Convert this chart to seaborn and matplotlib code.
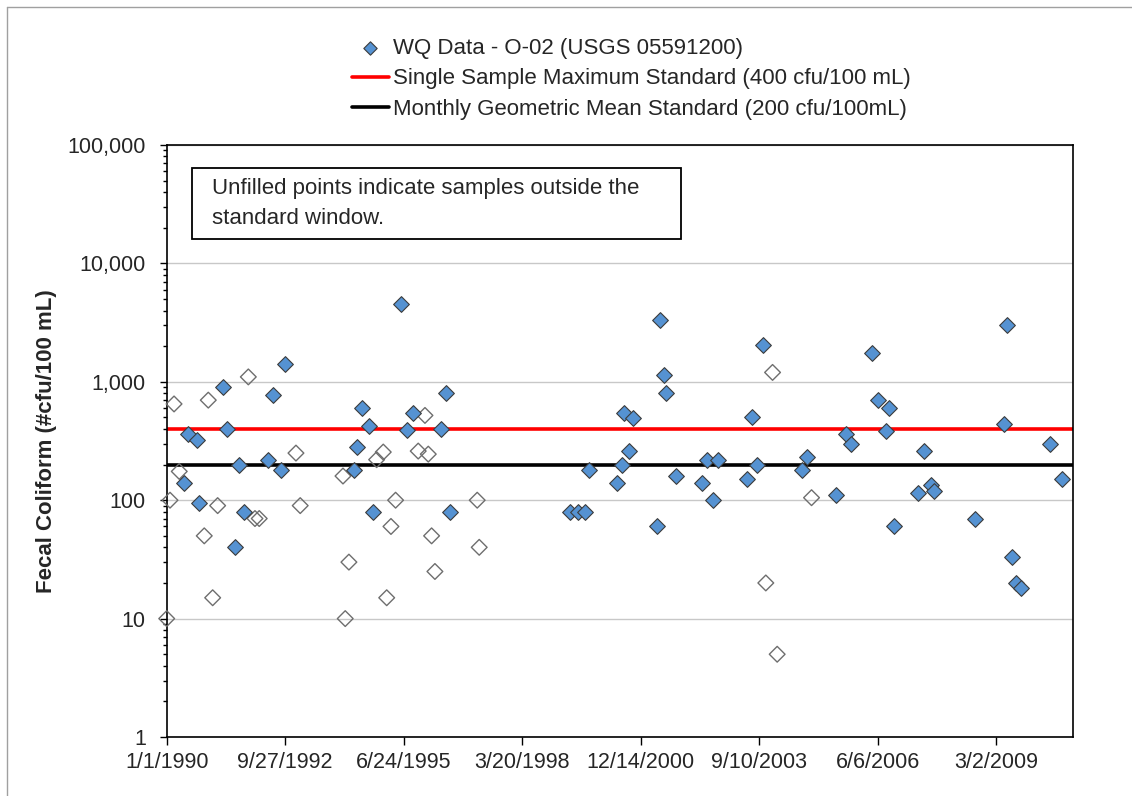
import numpy as np
import pandas as pd
import matplotlib
matplotlib.use("Agg")
import matplotlib.pyplot as plt
import matplotlib.ticker as mticker
import matplotlib.dates as mdates
from matplotlib.lines import Line2D
from matplotlib.patches import Rectangle
import seaborn as sns

# ---------------- data ----------------
start_date = "1990-01-01"
# days since 1/1/1990 and fecal coliform values (#cfu/100 mL)
inside_days = [146, 180, 253, 275, 478, 511, 574, 610, 655, 852,
               895, 967, 998, 1581, 1603, 1648, 1710, 1743, 1975, 2025,
               2081, 2317, 2357, 2391, 3403, 3473, 3530, 3566, 3797, 3840,
               3862, 3904, 3932, 4142, 4163, 4201, 4218, 4295, 4515, 4557,
               4608, 4655, 4895, 4939, 4979, 5030, 5361, 5403, 5646, 5733,
               5775, 5955, 6008, 6070, 6098, 6138, 6338, 6391, 6452, 6475,
               6824, 7066, 7097, 7136, 7167, 7212, 7460, 7553]
inside_vals = [140, 360, 320, 95, 900, 400, 40, 200, 80, 220,
               780, 180, 1400, 180, 280, 600, 420, 80, 4500, 390,
               540, 400, 800, 80, 80, 80, 80, 180, 140, 200,
               550, 260, 490, 60, 3300, 1150, 800, 160, 140, 220,
               100, 220, 150, 500, 200, 2050, 180, 230, 110, 360,
               300, 1750, 700, 385, 600, 61, 115, 260, 135, 120,
               70, 440, 3000, 33, 20, 18, 300, 150]
outside_days = [0, 28, 62, 106, 317, 351, 388, 430, 689, 745,
                781, 1091, 1127, 1488, 1507, 1538, 1772, 1828, 1857, 1893,
                1932, 2123, 2180, 2208, 2236, 2264, 2621, 2638, 5057, 5114,
                5153, 5443]
outside_vals = [10, 100, 650, 175, 50, 700, 15, 90, 1100, 70,
                70, 250, 90, 160, 10, 30, 220, 255, 15, 60,
                100, 260, 520, 245, 50, 25, 100, 40, 20, 1200,
                5, 105]
single_sample_max = 400
geo_mean_std = 200
x_tick_labels = ["1/1/1990", "9/27/1992", "6/24/1995", "3/20/1998",
                 "12/14/2000", "9/10/2003", "6/6/2006", "3/2/2009"]
y_ticks = [1, 10, 100, 1000, 10000, 100000]

series_label = "WQ Data - O-02 (USGS 05591200)"
ssm_label = "Single Sample Maximum Standard (400 cfu/100 mL)"
gm_label = "Monthly Geometric Mean Standard (200 cfu/100mL)"
note_text = "Unfilled points indicate samples outside the\nstandard window."
y_label = "Fecal Coliform (#cfu/100 mL)"

# ---------------- style ----------------
sns.set_style("white")
plt.rcParams["font.family"] = ["Liberation Sans", "DejaVu Sans"]
FS = 15.5
FS_LEG = 16

W, H = 1132, 796
def fx(px):
    return px / W
def fy(py):
    return 1 - py / H

base = pd.Timestamp(start_date)
df_in = pd.DataFrame({"date": base + pd.to_timedelta(inside_days, unit="D"),
                      "value": inside_vals})
df_out = pd.DataFrame({"date": base + pd.to_timedelta(outside_days, unit="D"),
                       "value": outside_vals})

fig = plt.figure(figsize=(W / 100, H / 100), dpi=100)
ax = fig.add_axes([fx(166.7), fy(737), fx(1073) - fx(166.7), fy(145) - fy(737)])

ax.set_yscale("log")

# grid
ax.yaxis.grid(True, which="major", color="#C8C8C8", lw=1.0, zorder=0)
ax.xaxis.grid(False)
ax.set_axisbelow(True)

# standards
ax.axhline(single_sample_max, color="#FF0000", lw=2.6, zorder=2, label=ssm_label)
ax.axhline(geo_mean_std, color="#000000", lw=2.6, zorder=2, label=gm_label)

# data
sns.scatterplot(data=df_out, x="date", y="value", marker="D", s=64,
                facecolor="none", edgecolor="#6E6E6E", linewidth=1.0,
                ax=ax, zorder=3, clip_on=False, legend=False)
sns.scatterplot(data=df_in, x="date", y="value", marker="D", s=64,
                color="#5592D2", edgecolor="#3C3C3C", linewidth=0.8,
                ax=ax, zorder=4, clip_on=False, label=series_label, legend=False)

# axes limits & ticks
tick_dates = pd.to_datetime(x_tick_labels, format="%m/%d/%Y")
ax.set_xlim(base, base + pd.Timedelta(days=7650))
ax.set_ylim(1, 100000)
ax.set_xticks(mdates.date2num(tick_dates))
ax.set_xticklabels(x_tick_labels, fontsize=FS)
ax.set_yticks(y_ticks)
ax.yaxis.set_major_formatter(mticker.FuncFormatter(lambda v, p: f"{int(round(v)):,}"))
ax.yaxis.set_minor_locator(mticker.LogLocator(base=10, subs=np.arange(2, 10)))
ax.yaxis.set_minor_formatter(mticker.NullFormatter())
ax.tick_params(axis="y", which="major", direction="out", length=5, width=1.0,
               color="black", labelsize=FS, pad=10, left=True)
ax.tick_params(axis="y", which="minor", direction="out", length=3, width=1.0,
               color="black", left=True)
ax.tick_params(axis="x", which="major", direction="out", length=5.5, width=1.0,
               color="black", labelsize=FS, pad=5, bottom=True)
ax.tick_params(axis="x", which="minor", bottom=False)

for sp in ax.spines.values():
    sp.set_visible(True)
    sp.set_color("black")
    sp.set_linewidth(1.2)

ax.set_xlabel("")
ax.set_ylabel(y_label, fontsize=FS_LEG, fontweight="bold")
ax.yaxis.label.set_va("center")
ax.yaxis.set_label_coords((47 - 166.7) / (1073 - 166.7), 0.5)

# legend
handles, labels = ax.get_legend_handles_labels()
order = [labels.index(series_label), labels.index(ssm_label), labels.index(gm_label)]
leg = ax.legend([handles[i] for i in order], [labels[i] for i in order],
                loc="upper left", bbox_to_anchor=(fx(352), fy(38)),
                bbox_transform=fig.transFigure, frameon=False, fontsize=FS_LEG,
                handlelength=1.65, handletextpad=0.2, labelspacing=0.42,
                borderpad=0, borderaxespad=0, markerscale=0.85)

# note box
fig.add_artist(Rectangle((fx(192), fy(239)), fx(681) - fx(192), fy(168) - fy(239),
                         transform=fig.transFigure, facecolor="white",
                         edgecolor="black", lw=1.3, zorder=5))
fig.text(fx(212), fy(178), note_text, fontsize=FS_LEG, va="top", ha="left",
         linespacing=1.55, zorder=6)

# outer chart border (only top/left visible)
fig.add_artist(Line2D([fx(7), fx(7)], [0, fy(7)], transform=fig.transFigure,
                      color="#A0A0A0", lw=1.0))
fig.add_artist(Line2D([fx(7), 1], [fy(7), fy(7)], transform=fig.transFigure,
                      color="#A0A0A0", lw=1.0))

fig.savefig("out.png", dpi=100)
